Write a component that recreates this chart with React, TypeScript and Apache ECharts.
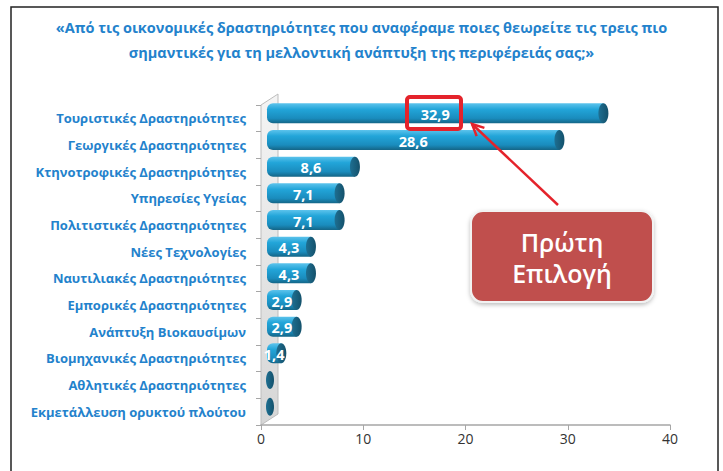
import React, { useEffect, useRef } from "react";
import * as echarts from "echarts";

const titleLines = [
  "«Από τις οικονομικές δραστηριότητες που αναφέραμε ποιες θεωρείτε τις τρεις πιο",
  "σημαντικές για τη μελλοντική ανάπτυξη της περιφέρειάς σας;»",
];

const categories = [
  "Τουριστικές Δραστηριότητες",
  "Γεωργικές Δραστηριότητες",
  "Κτηνοτροφικές Δραστηριότητες",
  "Υπηρεσίες Υγείας",
  "Πολιτιστικές Δραστηριότητες",
  "Νέες Τεχνολογίες",
  "Ναυτιλιακές Δραστηριότητες",
  "Εμπορικές Δραστηριότητες",
  "Ανάπτυξη Βιοκαυσίμων",
  "Βιομηχανικές Δραστηριότητες",
  "Αθλητικές Δραστηριότητες",
  "Εκμετάλλευση ορυκτού πλούτου",
];

const values = [32.9, 28.6, 8.6, 7.1, 7.1, 4.3, 4.3, 2.9, 2.9, 1.4, 0, 0];

const xTicks = { min: 0, max: 40, interval: 10 };

const calloutText = "Πρώτη\nΕπιλογή";

const FONT = "'Open Sans', 'Noto Sans', sans-serif";
const BLUE = "#2382CC";

export default function App() {
  const ref = useRef<HTMLDivElement>(null);

  useEffect(() => {
    if (!ref.current) return;
    const chart = echarts.init(ref.current, null, { renderer: "svg" });

    const gridLeft = 261;
    const gridTop = 105;
    const gridW = 409;
    const gridH = 320;
    const depthX = 17;
    const depthY = -11;
    const barDx = 6;
    const barDy = -5;
    const barH = 20;

    const bodyGrad = new echarts.graphic.LinearGradient(0, 0, 0, 1, [
      { offset: 0, color: "#5CC3EC" },
      { offset: 0.3, color: "#22A5D9" },
      { offset: 0.75, color: "#1A8CBD" },
      { offset: 1, color: "#146586" },
    ]);
    const capGrad = new echarts.graphic.LinearGradient(0, 0, 1, 0, [
      { offset: 0, color: "#1E6F92" },
      { offset: 1, color: "#14516B" },
    ]);

    // arrow geometry
    const tail = [558, 205];
    const tip = [472, 124];
    const ang = Math.atan2(tail[1] - tip[1], tail[0] - tip[0]);
    const hl = 13;
    const ha = 0.45;
    const h1 = [tip[0] + hl * Math.cos(ang + ha), tip[1] + hl * Math.sin(ang + ha)];
    const h2 = [tip[0] + hl * Math.cos(ang - ha), tip[1] + hl * Math.sin(ang - ha)];

    chart.setOption({
      animation: false,
      backgroundColor: "#ffffff",
      title: {
        text: titleLines.join("\n"),
        left: "center",
        top: 10,
        textStyle: {
          fontFamily: FONT,
          fontSize: 14.5,
          fontWeight: "bold",
          color: BLUE,
          lineHeight: 25,
        },
      },
      grid: {
        left: gridLeft,
        top: gridTop,
        width: gridW,
        height: gridH,
      },
      xAxis: {
        type: "value",
        min: xTicks.min,
        max: xTicks.max,
        interval: xTicks.interval,
        axisLine: { show: true, lineStyle: { color: "#A6A6A6", width: 1.5 } },
        axisTick: { show: true, length: 5, lineStyle: { color: "#A6A6A6" } },
        splitLine: { show: false },
        axisLabel: { fontFamily: FONT, fontSize: 14, color: "#333", margin: 6 },
      },
      yAxis: {
        type: "category",
        data: categories,
        inverse: true,
        axisLine: { show: false },
        axisTick: { show: true, length: 5, lineStyle: { color: "#A6A6A6" } },
        axisLabel: {
          fontFamily: FONT,
          fontSize: 13,
          fontWeight: "bold",
          color: BLUE,
          margin: 15,
        },
      },
      series: [
        {
          type: "custom",
          z: 5,
          data: values.map((v, i) => [v, i]),
          encode: { x: 0, y: 1 },
          renderItem: (params: any, api: any) => {
            const v = api.value(0);
            const idx = api.value(1);
            const p0 = api.coord([0, idx]);
            const p1 = api.coord([v, idx]);
            const x0 = p0[0] + barDx;
            const x1 = p1[0] + barDx;
            const cy = p0[1] + barDy;
            const children: any[] = [];
            if (v > 0) {
              children.push({
                type: "rect",
                shape: { x: x0, y: cy - barH / 2, width: x1 - x0, height: barH, r: [6, 0, 0, 6] },
                style: { fill: bodyGrad },
              });
              children.push({
                type: "ellipse",
                shape: { cx: x1, cy, rx: 5, ry: barH / 2 },
                style: { fill: capGrad },
              });
              children.push({
                type: "text",
                style: {
                  text: String(v).replace(".", ","),
                  x: (x0 + x1) / 2,
                  y: cy + 1,
                  align: "center",
                  verticalAlign: "middle",
                  fill: "#ffffff",
                  fontFamily: FONT,
                  fontSize: 14.5,
                  fontWeight: "bold",
                },
              });
            } else {
              children.push({
                type: "ellipse",
                shape: { cx: x0 + 3, cy, rx: 4, ry: barH / 2 - 1 },
                style: { fill: capGrad },
              });
            }
            return { type: "group", children };
          },
        },
      ],
      graphic: [
        {
          type: "rect",
          z: -10,
          shape: { x: 11, y: 7, width: 707, height: 480 },
          style: { fill: "none", stroke: "#222", lineWidth: 1.5 },
        },
        {
          type: "polygon",
          z: 0,
          shape: {
            points: [
              [gridLeft, gridTop + gridH],
              [gridLeft + depthX, gridTop + gridH + depthY],
              [gridLeft + depthX, gridTop + depthY],
              [gridLeft, gridTop],
            ],
          },
          style: {
            fill: new echarts.graphic.LinearGradient(0, 0, 0, 1, [
              { offset: 0, color: "#F4F4F4" },
              { offset: 1, color: "#D6D6D6" },
            ]),
            stroke: "#BDBDBD",
            lineWidth: 1,
          },
        },
        {
          type: "rect",
          z: 20,
          shape: { x: 407, y: 97, width: 54, height: 32, r: 3 },
          style: { fill: "none", stroke: "#E4232B", lineWidth: 4 },
        },
        {
          type: "line",
          z: 20,
          shape: { x1: tail[0], y1: tail[1], x2: tip[0], y2: tip[1] },
          style: { stroke: "#E4232B", lineWidth: 2.5 },
        },
        {
          type: "polyline",
          z: 20,
          shape: { points: [h1, tip, h2] },
          style: { stroke: "#E4232B", lineWidth: 2.5, fill: "none" },
        },
        {
          type: "rect",
          z: 20,
          shape: { x: 471, y: 211, width: 182, height: 91, r: 12 },
          style: {
            fill: "#C0504D",
            stroke: "#F2F2F2",
            lineWidth: 2,
            shadowBlur: 4,
            shadowColor: "rgba(0,0,0,0.25)",
            shadowOffsetY: 2,
          },
        },
        {
          type: "text",
          z: 21,
          style: {
            text: calloutText,
            x: 562,
            y: 257,
            align: "center",
            verticalAlign: "middle",
            fill: "#ffffff",
            fontFamily: FONT,
            fontSize: 25,
            fontWeight: 600,
            lineHeight: 31,
          },
        },
      ],
    });

    return () => chart.dispose();
  }, []);

  return (
    <div
      ref={ref}
      style={{ position: "fixed", left: 0, top: 0, width: 723, height: 471 }}
    />
  );
}
